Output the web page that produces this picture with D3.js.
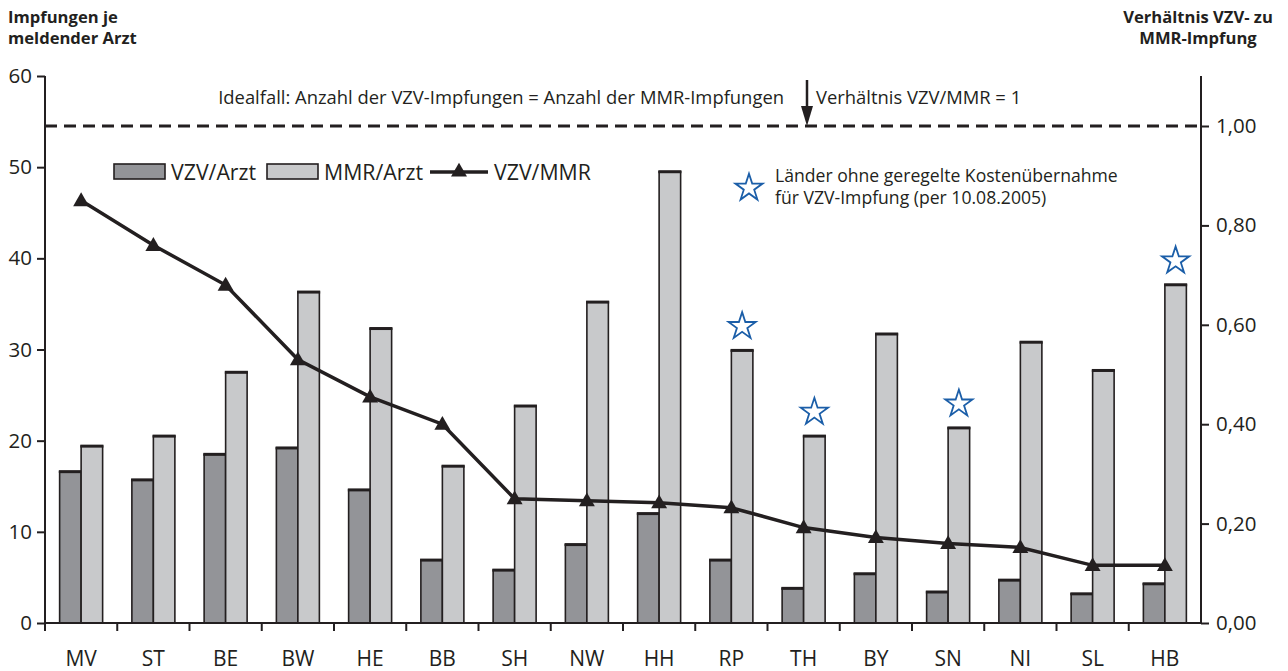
<!DOCTYPE html>
<html><head><meta charset="utf-8">
<script src="https://cdn.jsdelivr.net/npm/d3@7"></script>
<style>
html,body{margin:0;padding:0;background:#fff;}
svg text{font-family:"Open Sans","Noto Sans",sans-serif;fill:#231f20;}
</style></head>
<body>
<svg id="c" width="1288" height="671"></svg>
<script>
const categories = ["MV","ST","BE","BW","HE","BB","SH","NW","HH","RP","TH","BY","SN","NI","SL","HB"];
const vzvPerArzt = [16.6,15.7,18.5,19.2,14.6,6.9,5.8,8.6,12.0,6.9,3.8,5.4,3.4,4.7,3.2,4.3];
const mmrPerArzt = [19.4,20.5,27.5,36.3,32.3,17.2,23.8,35.2,49.5,29.9,20.5,31.7,21.4,30.8,27.7,37.1];
const vzvMmrRatio = [0.85,0.76,0.68,0.53,0.455,0.40,0.25,0.246,0.242,0.232,0.192,0.172,0.16,0.152,0.116,0.116];
const starred = ["RP","TH","SN","HB"];
const leftTicks = [0,10,20,30,40,50,60];
const rightTicks = [0,0.2,0.4,0.6,0.8,1.0];

const ink = "#231f20";
const svg = d3.select("#c");
const x0 = 45, x1 = 1201;
const x = d3.scaleBand().domain(categories).range([x0, x1]).padding(0);
const yL = d3.scaleLinear().domain([0,60]).range([623,76]);
const yR = d3.scaleLinear().domain([0,1]).range([623,126]);
const barW = 21.5;

// titles
const tl = svg.append("text").attr("x",8).attr("y",23).attr("font-weight","bold").attr("font-size",16.6);
tl.append("tspan").attr("x",8).text("Impfungen je");
tl.append("tspan").attr("x",8).attr("dy",21).text("meldender Arzt");
const tr = svg.append("text").attr("x",1198).attr("y",23).attr("font-weight","bold").attr("font-size",16.6).attr("text-anchor","middle");
tr.append("tspan").attr("x",1198).text("Verhältnis VZV- zu");
tr.append("tspan").attr("x",1198).attr("dy",21).text("MMR-Impfung");

// bars
const g = svg.append("g");
categories.forEach((c,i)=>{
  const cx = x(c) + x.bandwidth()/2;
  [[vzvPerArzt[i], cx - barW, "#939498"], [mmrPerArzt[i], cx, "#c8c9cb"]].forEach(([v,bx,col])=>{
    g.append("rect").attr("x",bx).attr("y",yL(v)).attr("width",barW).attr("height",yL(0)-yL(v))
      .attr("fill",col).attr("stroke",ink).attr("stroke-width",1.6);
    g.append("line").attr("x1",bx-0.8).attr("x2",bx+barW+0.8).attr("y1",yL(v)).attr("y2",yL(v))
      .attr("stroke",ink).attr("stroke-width",3);
  });
});

// axes
const axL = svg.append("g").attr("transform",`translate(${x0},0)`)
  .call(d3.axisLeft(yL).tickValues(leftTicks).tickSize(8).tickPadding(5).tickFormat(d3.format("d")));
const axR = svg.append("g").attr("transform",`translate(${x1},0)`)
  .call(d3.axisRight(yR).tickValues(rightTicks).tickSize(8).tickPadding(7).tickFormat(d=>d.toFixed(2).replace(".",",")));
[axL,axR].forEach(a=>{
  a.select(".domain").attr("stroke",ink).attr("stroke-width",2).attr("d", a===axL ? `M0,${yL(0)}V${yL(60)}` : `M0,${yR(0)}V${yL(60)}`);
  a.selectAll(".tick line").attr("stroke",ink).attr("stroke-width",2);
  a.selectAll(".tick text").attr("font-size",20.5).attr("fill",ink).attr("font-family","'Open Sans',sans-serif");
});
// x axis
const axX = svg.append("g");
axX.append("line").attr("x1",x0).attr("x2",x1).attr("y1",yL(0)).attr("y2",yL(0)).attr("stroke",ink).attr("stroke-width",2);
categories.forEach((c,i)=>{
  if(i>0) axX.append("line").attr("x1",x(c)).attr("x2",x(c)).attr("y1",yL(0)).attr("y2",yL(0)+8).attr("stroke",ink).attr("stroke-width",2);
  axX.append("text").attr("x",x(c)+x.bandwidth()/2).attr("y",666).attr("text-anchor","middle").attr("font-size",21).text(c);
});
axX.append("line").attr("x1",x0).attr("x2",x0).attr("y1",yL(0)).attr("y2",yL(0)+8).attr("stroke",ink).attr("stroke-width",2);

// ideal line
svg.append("line").attr("x1",x0).attr("x2",x1).attr("y1",yR(1)).attr("y2",yR(1))
  .attr("stroke",ink).attr("stroke-width",3).attr("stroke-dasharray","12,7");
svg.append("text").attr("x",784).attr("y",104).attr("text-anchor","end").attr("font-size",18.4)
  .text("Idealfall: Anzahl der VZV-Impfungen = Anzahl der MMR-Impfungen");
svg.append("text").attr("x",816).attr("y",104).attr("font-size",18.4).text("Verhältnis VZV/MMR = 1");
svg.append("line").attr("x1",807).attr("x2",807).attr("y1",80).attr("y2",110).attr("stroke",ink).attr("stroke-width",2.5);
svg.append("path").attr("d",`M801,106L813,106L807,${yR(1)}Z`).attr("fill",ink);

// ratio line
const pts = categories.map((c,i)=>[x(c)+x.bandwidth()/2, yR(vzvMmrRatio[i])]);
svg.append("path").attr("d",d3.line()(pts)).attr("fill","none").attr("stroke",ink).attr("stroke-width",3.5);
const tri = d3.symbol().type(d3.symbolTriangle).size(110);
pts.forEach(p=>svg.append("path").attr("d",tri()).attr("transform",`translate(${p[0]},${p[1]+1})`).attr("fill",ink));

// stars
const star = d3.symbol().type(d3.symbolStar).size(230);
categories.forEach((c,i)=>{
  if(starred.includes(c)){
    const cx = x(c)+x.bandwidth()/2 + barW/2;
    svg.append("path").attr("d",star()).attr("transform",`translate(${cx},${yL(mmrPerArzt[i])-24})`)
      .attr("fill","none").attr("stroke","#1b5ea8").attr("stroke-width",1.8);
  }
});

// legend
const lg = svg.append("g");
lg.append("rect").attr("x",114).attr("y",164).attr("width",51).attr("height",15).attr("fill","#939498").attr("stroke",ink).attr("stroke-width",1.6);
lg.append("text").attr("x",171).attr("y",180).attr("font-size",21.3).text("VZV/Arzt");
lg.append("rect").attr("x",267).attr("y",164).attr("width",51).attr("height",15).attr("fill","#c8c9cb").attr("stroke",ink).attr("stroke-width",1.6);
lg.append("text").attr("x",324).attr("y",180).attr("font-size",21.3).text("MMR/Arzt");
lg.append("line").attr("x1",430).attr("x2",488).attr("y1",172).attr("y2",172).attr("stroke",ink).attr("stroke-width",3.5);
lg.append("path").attr("d",tri()).attr("transform","translate(459,172)").attr("fill",ink);
lg.append("text").attr("x",494).attr("y",180).attr("font-size",21.3).text("VZV/MMR");
lg.append("path").attr("d",star()).attr("transform","translate(749,188)").attr("fill","none").attr("stroke","#1b5ea8").attr("stroke-width",1.8);
const st = lg.append("text").attr("x",775).attr("y",182).attr("font-size",17.6);
st.append("tspan").attr("x",775).text("Länder ohne geregelte Kostenübernahme");
st.append("tspan").attr("x",775).attr("dy",22).text("für VZV-Impfung (per 10.08.2005)");
</script>
</body></html>
